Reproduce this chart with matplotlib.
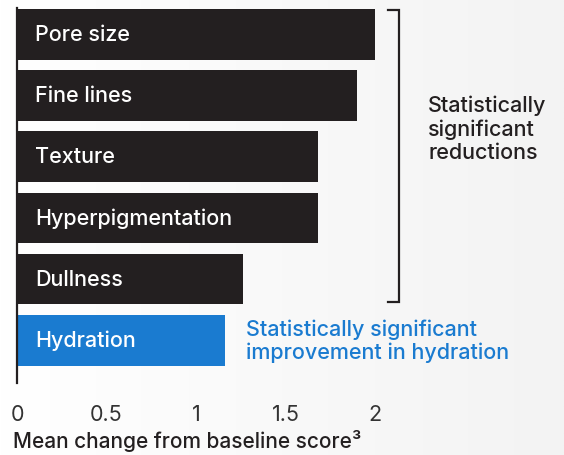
import matplotlib
matplotlib.use("Agg")
import matplotlib.pyplot as plt
import numpy as np
from matplotlib.colors import LinearSegmentedColormap

categories = ["Pore size", "Fine lines", "Texture", "Hyperpigmentation", "Dullness", "Hydration"]
values = [2.0, 1.90, 1.68, 1.68, 1.26, 1.16]
colors = ["#231f20"] * 5 + ["#1a7bd0"]
xticks = [0, 0.5, 1, 1.5, 2]
xticklabels = ["0", "0.5", "1", "1.5", "2"]
xlabel = "Mean change from baseline score³"
bracket_text = "Statistically\nsignificant\nreductions"
blue_text = "Statistically significant\nimprovement in hydration"

plt.rcParams['font.family'] = ['Inter', 'DejaVu Sans']

W, H = 564, 455
fig = plt.figure(figsize=(W / 100, H / 100), dpi=100)

# subtle background gradient
bg = fig.add_axes([0, 0, 1, 1], zorder=-10)
gx = np.linspace(0, 1, 200)
grad = np.tile(gx, (10, 1))
cmap = LinearSegmentedColormap.from_list("bg", ["#ffffff", "#f3f3f3"])
bg.imshow(grad, aspect="auto", cmap=cmap, extent=[0, 1, 0, 1])
bg.axis("off")

left_px, right_px = 17, 375
top_px, bot_px = 8, 383
ax = fig.add_axes([left_px / W, 1 - bot_px / H, (right_px - left_px) / W, (bot_px - top_px) / H])
ax.patch.set_alpha(0)

y = np.arange(len(categories))
ax.barh(y, values, height=0.83, color=colors, zorder=2)
ax.set_xlim(0, 2)
ax.set_ylim(5.70, -0.434)

for yi, cat in zip(y, categories):
    ax.text(0.10, yi + 0.01, cat, color="white", fontsize=15.5, va="center", ha="left",
            fontweight="medium", zorder=3)

for s in ["top", "right", "bottom"]:
    ax.spines[s].set_visible(False)
ax.spines["left"].set_linewidth(1.6)
ax.spines["left"].set_color("#231f20")
ax.set_yticks([])
ax.set_xticks(xticks)
ax.set_xticklabels(xticklabels)
ax.tick_params(axis="x", length=0, pad=16, labelsize=15.5, labelcolor="#333333")

# x label
fig.text(13 / W, 1 - 441 / H, xlabel, fontsize=15, color="#231f20",
         fontweight="medium", ha="left", va="center")

# bracket
bx = 2.0 + (399 - 375) / 179.0
bx0 = 2.0 + (388 - 375) / 179.0
ytop = (10 - 34.5) / 61.1
ybot = (302 - 34.5) / 61.1
ax.plot([bx0, bx, bx, bx0], [ytop, ytop, ybot, ybot], color="#231f20",
        lw=1.6, clip_on=False, solid_joinstyle="miter")

fig.text(428 / W, 1 - 129 / H, bracket_text, fontsize=15.5, color="#231f20",
         fontweight="medium", ha="left", va="center", linespacing=1.2)
fig.text(246 / W, 1 - 341 / H, blue_text, fontsize=15.5, color="#1a7bd0",
         fontweight="medium", ha="left", va="center", linespacing=1.15)

fig.savefig("out.png", dpi=100)
